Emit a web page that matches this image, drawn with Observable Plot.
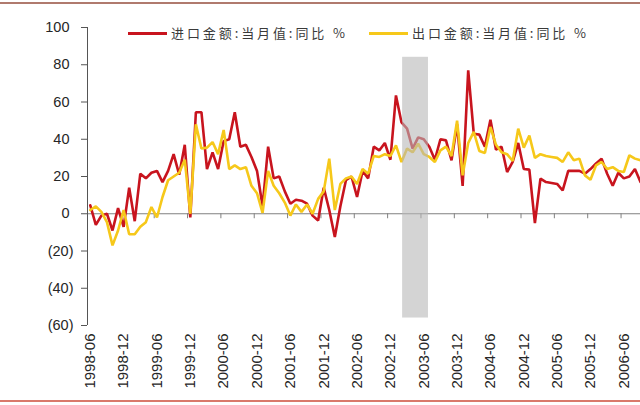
<!DOCTYPE html>
<html>
<head>
<meta charset="utf-8">
<script src="https://cdn.jsdelivr.net/npm/d3@7"></script>
<script src="https://cdn.jsdelivr.net/npm/@observablehq/plot@0.6"></script>
<style>
  html, body { margin: 0; padding: 0; background: #fff; }
  #wrap { position: relative; width: 640px; height: 405px; overflow: hidden; background: #fff; }
  #chart { position: absolute; left: 0; top: 0; }
  .edge { position: absolute; left: 0; width: 640px; height: 2px; }
  .legend-item { position: absolute; top: 24px; height: 18px; }
  .swatch { position: absolute; top: 8px; height: 2.6px; width: 39px; }
  .ltext { position: absolute; left: 43px; top: 0; width: 174px; height: 18px; line-height: 18px;
           font-family: "Noto Sans CJK SC", sans-serif; font-size: 13px; color: #3a3a3a;
           text-align: justify; text-align-last: justify; white-space: nowrap; }
</style>
</head>
<body>
<div id="wrap">
  <div id="chart"></div>
  <div class="edge" style="top:2px;background:#b07a6e;"></div>
  <div class="edge" style="top:400px;background:#d9796b;"></div>
  <div id="legend"></div>
</div>
<script>
// ---- data ----
const seriesNames = ["进口金额:当月值:同比 %", "出口金额:当月值:同比 %"];
const seriesColors = ["#C8141E", "#F6C81A"];

const startYear = 1998, startMonth = 6, monthCount = 100;
const months = [];
for (let k = 0; k < monthCount; k++) {
  const m = startMonth - 1 + k;
  const y = startYear + Math.floor(m / 12);
  months.push(`${y}-${String((m % 12) + 1).padStart(2, "0")}`);
}

const tickLabels = ["1998-06","1998-12","1999-06","1999-12","2000-06","2000-12","2001-06","2001-12",
  "2002-06","2002-12","2003-06","2003-12","2004-06","2004-12","2005-06","2005-12","2006-06"];

const yTicks = [-60, -40, -20, 0, 20, 40, 60, 80, 100];

// 进口金额 当月同比 %
const importYoY = [
  4.5, -6, -1, 0, -9, 3, -7, 14, -4, 21.5,
  19, 22, 23, 17, 23, 32, 21, 37, -2, 54.5,
  54.5, 24, 33, 24, 39, 40, 54.5, 36, 37, 30.5,
  23, 4, 36, 19, 20, 12, 5.4, 7.5, 7, 5.4,
  -1, -3.6, 14, 2, -12.5, 4, 18, 20, 9, 23,
  19, 36, 34, 38, 29, 63.5, 49, 45.7, 35, 41,
  40, 36, 29, 40, 39.4, 28.7, 48, 15, 77, 43,
  42.5, 36, 50.5, 34.4, 36, 22.4, 27.8, 38, 24, 23.7,
  -5, 18.8, 17, 16.5, 16, 12.5, 23, 23, 23, 21.5,
  24, 27, 29.6, 21.5, 15, 22, 19, 20, 24, 17
];

// 出口金额 当月同比 %
const exportYoY = [
  2, 4, 1, -4.5, -17, -9, 2, -11, -11, -7,
  -4.5, 3.6, -2, 9, 18, 20, 22, 29, 0, 48,
  35, 35.5, 38.5, 32, 45, 24, 26, 24, 25, 15,
  11, 0.5, 23, 15, 11, 6, -1, 5, 1, 5,
  0, 8, 12, 29.6, 2, 16, 19, 20, 16, 24,
  21.5, 31, 30.5, 32, 31, 36.7, 27.8, 35, 33, 37.6,
  32, 30.5, 27.8, 34, 36, 31, 50, 20.6, 38, 44,
  33.7, 32.6, 46.6, 37, 33, 32, 28.3, 45.7, 35.5, 42,
  30, 32, 31, 30.5, 30, 27.8, 33, 28.7, 29.6, 20.6,
  18.3, 26, 27.8, 24, 25, 23, 22.4, 31.4, 29.6, 28.7
];

// shaded period (month index, fractional) and its vertical extent
const shadeBand = [{ from: 56.2, to: 60.85, low: -56, high: 84 }];

// ---- build ----
const rows = months.map((m, i) => ({ i, month: m, imp: importYoY[i], exp: exportYoY[i] }));
const tickIdx = tickLabels.map(l => months.indexOf(l));

const chart = Plot.plot({
  width: 640,
  height: 405,
  marginLeft: 87,
  marginRight: 0,
  marginTop: 27,
  marginBottom: 80,
  x: { domain: [-0.5, months.length - 1], axis: null },
  y: { domain: [-60, 100], axis: null },
  style: { fontFamily: "'Liberation Sans', Arial, sans-serif", background: "transparent", color: "#262626" },
  marks: [
    Plot.ruleY([0], { stroke: "#808080", strokeWidth: 1 }),
    Plot.ruleX(tickIdx, { x: d => d - 0.5, y1: 0, y2: 0, insetBottom: -5, stroke: "#808080" }),
    Plot.ruleX([-0.5], { stroke: "#555", strokeWidth: 1 }),
    Plot.lineY(rows, { x: "i", y: "imp", stroke: seriesColors[0], strokeWidth: 2.6, strokeLinejoin: "miter" }),
    Plot.lineY(rows, { x: "i", y: "exp", stroke: seriesColors[1], strokeWidth: 2.6, strokeLinejoin: "miter" }),
    Plot.rect(shadeBand, { x1: "from", x2: "to", y1: "low", y2: "high", fill: "#b8b8b8", fillOpacity: 0.6 }),
    Plot.axisY({
      ticks: yTicks, tickSize: 6, tickPadding: 8, fontSize: 14.5, label: null, stroke: "#555",
      tickFormat: d => d < 0 ? `(${-d})` : `${d}\u2008`
    }),
    Plot.axisX({
      ticks: tickIdx, tickSize: 0, tickPadding: 8, tickRotate: -90, fontSize: 15, label: null,
      tickFormat: i => months[i]
    })
  ]
});
document.getElementById("chart").append(chart);

// legend
const legend = document.getElementById("legend");
const legendLeft = [128, 369];
seriesNames.forEach((name, k) => {
  const item = document.createElement("div");
  item.className = "legend-item";
  item.style.left = legendLeft[k] + "px";
  const sw = document.createElement("span");
  sw.className = "swatch";
  sw.style.background = seriesColors[k];
  const t = document.createElement("span");
  t.className = "ltext";
  t.textContent = name;
  item.append(sw, t);
  legend.append(item);
});
</script>
</body>
</html>
